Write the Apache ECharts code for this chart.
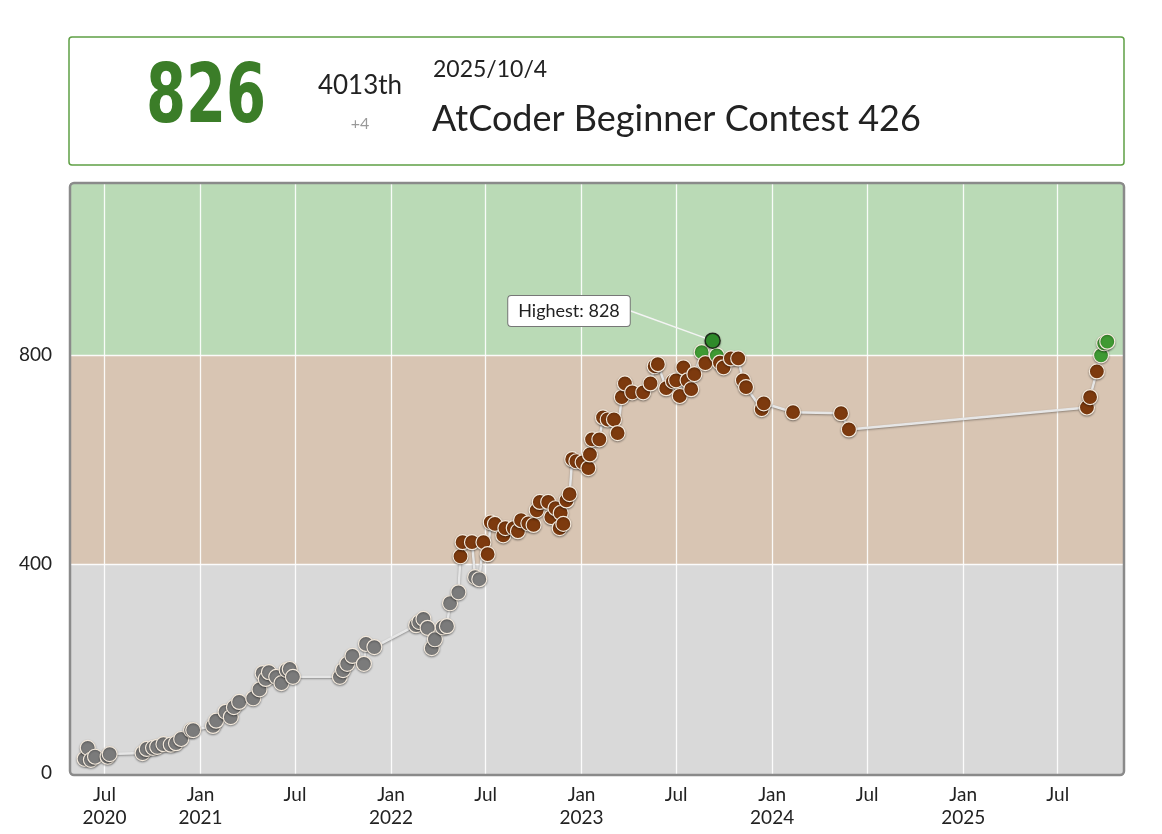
<!DOCTYPE html>
<html>
<head>
<meta charset="utf-8">
<script src="https://cdn.jsdelivr.net/npm/echarts@6/dist/echarts.min.js"></script>
<style>
html,body{margin:0;padding:0;background:#fff;}
#main{width:1162px;height:834px;}
</style>
</head>
<body>
<div id="main"></div>
<script>
// contest dates and ratings
var dates = [
  '2020-05-24','2020-05-30','2020-06-05','2020-06-13','2020-07-07','2020-07-11',
  '2020-09-12','2020-09-20','2020-10-02','2020-10-10','2020-10-22','2020-11-05','2020-11-15','2020-11-25',
  '2020-12-14','2020-12-18','2021-01-25','2021-01-31','2021-02-18','2021-02-28','2021-03-06','2021-03-16',
  '2021-04-12','2021-04-24','2021-04-30','2021-05-06','2021-05-12','2021-05-26','2021-06-05','2021-06-15',
  '2021-06-21','2021-06-27',
  '2021-09-25','2021-10-01','2021-10-09','2021-10-19','2021-11-10','2021-11-14','2021-11-30',
  '2022-02-18','2022-02-24','2022-03-04','2022-03-12','2022-03-20','2022-03-26','2022-04-10','2022-04-18',
  '2022-04-24','2022-05-10','2022-05-14','2022-05-18','2022-06-05','2022-06-11','2022-06-19','2022-06-27',
  '2022-07-05','2022-07-11','2022-07-19','2022-08-04','2022-08-08','2022-08-24','2022-09-01','2022-09-07',
  '2022-09-21','2022-10-01','2022-10-07','2022-10-13','2022-10-29','2022-11-04','2022-11-12','2022-11-20',
  '2022-11-22','2022-11-27','2022-12-03','2022-12-09','2022-12-14','2022-12-22',
  '2023-01-03','2023-01-14','2023-01-17','2023-01-21','2023-02-04','2023-02-11','2023-02-20','2023-03-04',
  '2023-03-11','2023-03-19','2023-03-25','2023-04-08','2023-04-29','2023-05-13','2023-05-21','2023-05-27',
  '2023-06-12','2023-06-25','2023-07-01','2023-07-08','2023-07-15','2023-07-23','2023-07-30','2023-08-05',
  '2023-08-19','2023-08-26','2023-09-09','2023-09-17','2023-09-23','2023-09-30','2023-10-14','2023-10-28',
  '2023-11-06','2023-11-12','2023-12-12','2023-12-16','2024-02-10','2024-05-12','2024-05-27',
  '2025-08-26','2025-09-01','2025-09-14','2025-09-22','2025-09-28','2025-10-04'
];
var ratings = [
  27,48,25,31,31,36,
  38,46,48,50,55,54,57,65,
  82,82,90,100,117,107,126,136,
  143,160,191,180,193,184,172,197,
  199,184,
  184,197,209,224,209,247,241,
  283,289,295,278,239,256,279,281,
  325,346,415,442,442,375,371,442,
  419,480,477,455,469,469,463,484,
  478,475,503,519,519,490,507,469,
  498,477,522,534,601,597,
  595,584,610,639,639,681,677,677,
  651,720,746,729,729,746,779,783,
  737,750,752,722,777,752,735,764,
  806,785,828,800,786,777,794,794,
  752,739,697,708,691,689,658,
  700,720,769,800,823,826
];
var yLabels = [0, 400, 800];
var xTicks = ['2020-07-01','2021-01-01','2021-07-01','2022-01-01','2022-07-01','2023-01-01',
  '2023-07-01','2024-01-01','2024-07-01','2025-01-01','2025-07-01'];
var highest = ['2023-09-09', 828];

function ts(d) { return Date.UTC(+d.slice(0, 4), +d.slice(5, 7) - 1, +d.slice(8, 10)); }
var pts = dates.map(function (d, i) { return [ts(d), ratings[i]]; });
var tickTs = xTicks.map(ts);

function rankColor(v) {
  if (v < 400) return '#7b7b7b';
  if (v < 800) return '#7d3a0e';
  return '#3f9a33';
}

var gridLines = tickTs.map(function (t) { return {xAxis: t}; });
gridLines.push({yAxis: 400}, {yAxis: 800});

var chart = echarts.init(document.getElementById('main'));
chart.setOption({
  animation: false,
  grid: {left: 70, right: 38, top: 183, bottom: 59},
  xAxis: {
    type: 'value',
    min: ts('2020-04-26'), max: ts('2025-11-05'),
    axisLine: {show: false},
    axisTick: {show: false},
    splitLine: {show: false},
    axisLabel: {
      customValues: tickTs,
      fontFamily: 'Lato', fontSize: 19, color: '#222', lineHeight: 23, margin: 8,
      formatter: function (v) {
        var d = new Date(v);
        var y = d.getUTCFullYear();
        if (d.getUTCMonth() === 0) return 'Jan\n' + y;
        return y === 2020 ? 'Jul\n2020' : 'Jul';
      }
    }
  },
  yAxis: {
    type: 'value', min: -4, max: 1130,
    axisLine: {show: false}, axisTick: {show: false}, splitLine: {show: false},
    axisLabel: {customValues: yLabels, fontFamily: 'Lato', fontSize: 19, color: '#222', margin: 18}
  },
  series: [
    {
      type: 'line', data: pts, showSymbol: false, z: 2,
      lineStyle: {color: '#e6e6e6', width: 2.5, shadowColor: 'rgba(0,0,0,0.35)', shadowBlur: 2, shadowOffsetY: 1},
      markArea: {
        silent: true,
        data: [
          [{yAxis: -4, itemStyle: {color: '#d9d9d9'}}, {yAxis: 400}],
          [{yAxis: 400, itemStyle: {color: '#d8c5b3'}}, {yAxis: 800}],
          [{yAxis: 800, itemStyle: {color: '#badab6'}}, {yAxis: 1130}]
        ]
      },
      markLine: {
        silent: true, symbol: 'none', label: {show: false}, z: 1,
        lineStyle: {color: '#ffffff', type: 'solid', width: 1.3, opacity: 0.9},
        data: gridLines
      }
    },
    {
      type: 'scatter', data: pts, symbolSize: 15, z: 3,
      itemStyle: {
        color: function (p) { return rankColor(p.value[1]); },
        opacity: 1,
        borderColor: '#f3e9dc', borderWidth: 1.2,
        shadowColor: 'rgba(0,0,0,0.35)', shadowBlur: 2, shadowOffsetY: 1
      }
    },
    {
      type: 'scatter', data: [[ts(highest[0]), highest[1]]], symbolSize: 15, z: 4,
      itemStyle: {color: '#2f8a2a', opacity: 1, borderColor: '#1d2a1a', borderWidth: 1.5},
      label: {
        show: true, formatter: function (p) { return 'Highest: ' + p.value[1]; },
        fontFamily: 'Lato', fontSize: 18, color: '#222',
        backgroundColor: '#ffffff', borderColor: '#777', borderWidth: 1, borderRadius: 3,
        padding: [6, 10]
      },
      labelLayout: {x: 569, y: 311, align: 'center', verticalAlign: 'middle'},
      labelLine: {show: true, lineStyle: {color: '#f4f4f4', width: 1.5}}
    }
  ],
  graphic: [
    {type: 'rect', shape: {x: 70, y: 183, width: 1054, height: 592, r: 4}, z: 100, silent: true,
      style: {fill: 'none', stroke: '#8a8a8a', lineWidth: 2.5}},
    {type: 'rect', shape: {x: 69, y: 37, width: 1055, height: 128, r: 3}, z: 100,
      style: {fill: '#fff', stroke: '#5fa045', lineWidth: 1.5}},
    {type: 'text', x: 206, y: 101, z: 101, scaleX: 0.78,
      style: {text: '826', font: 'bold 82px "DejaVu Sans Condensed"',
      fill: '#3b7d28', align: 'center', verticalAlign: 'middle'}},
    {type: 'text', x: 360, y: 86, z: 101, style: {text: '4013th', font: '26px Lato', fill: '#222',
      align: 'center', verticalAlign: 'middle'}},
    {type: 'text', x: 360, y: 124, z: 101, style: {text: '+4', font: '16px Lato', fill: '#999',
      align: 'center', verticalAlign: 'middle'}},
    {type: 'text', x: 433, y: 70, z: 101, style: {text: '2025/10/4', font: '23px Lato', fill: '#222',
      verticalAlign: 'middle'}},
    {type: 'text', x: 432, y: 119, z: 101, style: {text: 'AtCoder Beginner Contest 426', font: '36px Lato',
      fill: '#222', verticalAlign: 'middle'}}
  ]
});
</script>
</body>
</html>
